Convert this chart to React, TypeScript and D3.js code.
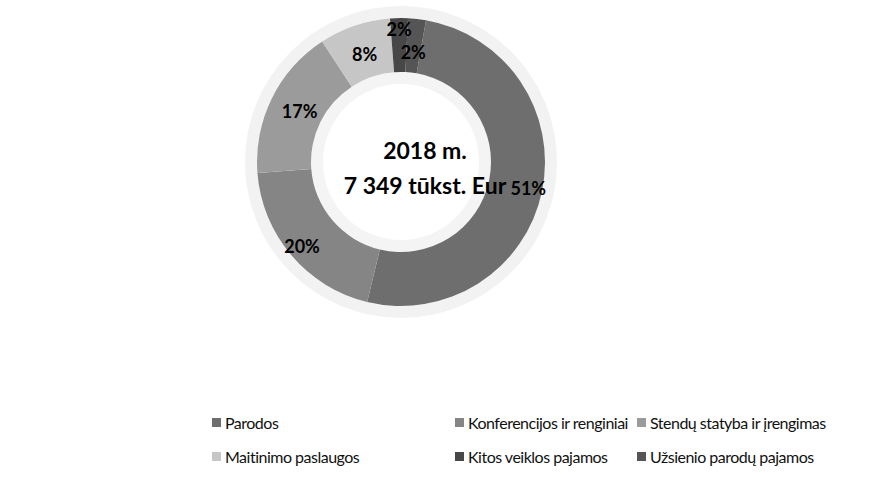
import React, { useEffect, useRef } from 'react';
import * as d3 from 'd3';

// revenue structure 2018, share of total (%)
const categories = [
  'Parodos',
  'Konferencijos ir renginiai',
  'Stendų statyba ir įrengimas',
  'Maitinimo paslaugos',
  'Kitos veiklos pajamos',
  'Užsienio parodų pajamos',
];
const shares = [51, 20, 17, 8, 2, 2];
const colors = ['#6e6e6e', '#858585', '#9b9b9b', '#c6c6c6', '#474747', '#555555'];
const centerLines = ['2018 m.', '7 349 tūkst. Eur'];

const W = 879;
const H = 483;
const FONT = 'Lato, "Open Sans", sans-serif';

export default function App() {
  const ref = useRef<SVGSVGElement>(null);

  useEffect(() => {
    const svg = d3.select(ref.current);
    svg.selectAll('*').remove();

    const cx = 401;
    const cy = 162;
    const outerR = 144;
    const innerR = 90;

    const data = categories.map((c, i) => ({ name: c, value: shares[i], color: colors[i] }));

    const startRad = (10 * Math.PI) / 180;
    const pie = d3.pie<any>()
      .value(d => d.value)
      .sort(null)
      .startAngle(startRad)
      .endAngle(startRad + 2 * Math.PI);

    const arc = d3.arc<any>().innerRadius(innerR).outerRadius(outerR);

    const g = svg.append('g').attr('transform', `translate(${cx},${cy})`);

    // faint halo like the scan speckle
    g.append('circle')
      .attr('r', outerR + 6)
      .attr('fill', 'none')
      .attr('stroke', '#f2f2f2')
      .attr('stroke-width', 12);
    g.append('circle')
      .attr('r', innerR - 6)
      .attr('fill', 'none')
      .attr('stroke', '#f4f4f4')
      .attr('stroke-width', 12);

    const arcs = pie(data);

    g.selectAll('path.slice')
      .data(arcs)
      .enter()
      .append('path')
      .attr('class', 'slice')
      .attr('d', arc)
      .attr('fill', d => d.data.color);

    // percentage labels
    let tinyCount = 0;
    g.selectAll('text.pct')
      .data(arcs)
      .enter()
      .append('text')
      .attr('class', 'pct')
      .attr('transform', d => {
        const a = (d.startAngle + d.endAngle) / 2;
        let r = (innerR + outerR) / 2 - 4;
        if (d.data.value >= 20) r = outerR - 14;
        if (d.data.value < 3) {
          r = tinyCount === 0 ? outerR - 12 : innerR + 20;
          tinyCount++;
        }
        return `translate(${r * Math.sin(a)},${-r * Math.cos(a)})`;
      })
      .attr('text-anchor', 'middle')
      .attr('dy', '0.35em')
      .attr('font-family', FONT)
      .attr('font-weight', 'bold')
      .attr('font-size', 18)
      .attr('fill', '#000')
      .text(d => `${d.data.value}%`);

    // centre title
    svg.selectAll('text.center')
      .data(centerLines)
      .enter()
      .append('text')
      .attr('class', 'center')
      .attr('x', 425)
      .attr('y', (d, i) => 159 + i * 35)
      .attr('text-anchor', 'middle')
      .attr('font-family', FONT)
      .attr('font-weight', 'bold')
      .attr('font-size', 23)
      .attr('fill', '#000')
      .text(d => d);

    // legend, 3 columns x 2 rows
    const colX = [212, 455, 637];
    const rowY = [423, 457];
    const legend = svg.append('g');
    data.forEach((d, i) => {
      const x = colX[i % 3];
      const y = rowY[Math.floor(i / 3)];
      legend.append('rect')
        .attr('x', x)
        .attr('y', y - 5)
        .attr('width', 9)
        .attr('height', 9)
        .attr('fill', d.color);
      legend.append('text')
        .attr('x', x + 13)
        .attr('y', y)
        .attr('dy', '0.35em')
        .attr('font-family', FONT)
        .attr('font-size', 16)
        .attr('letter-spacing', -0.5)
        .attr('fill', '#111')
        .text(d.name);
    });
  }, []);

  return (
    <svg
      ref={ref}
      width={W}
      height={H}
      style={{ position: 'absolute', left: 0, top: 0, background: '#fff' }}
    />
  );
}
